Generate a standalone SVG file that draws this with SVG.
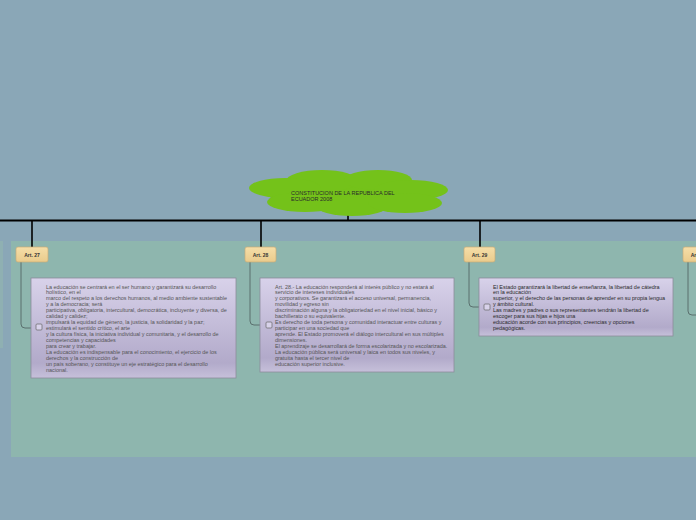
<svg xmlns="http://www.w3.org/2000/svg" width="696" height="520" viewBox="0 0 696 520">
<defs>
<linearGradient id="boxg" x1="0" y1="0" x2="0" y2="1">
<stop offset="0" stop-color="#D8D2EA"/>
<stop offset="0.85" stop-color="#B2AACA"/>
<stop offset="1" stop-color="#C6C0DA"/>
</linearGradient>
<linearGradient id="tagg" x1="0" y1="0" x2="0" y2="1">
<stop offset="0" stop-color="#F5DEA8"/>
<stop offset="1" stop-color="#EACB8C"/>
</linearGradient>
</defs>
<style>
.tag{fill:url(#tagg);stroke:#C9AE78;stroke-width:0.7}
.tagt{font-family:"Liberation Sans",Arial,sans-serif;font-size:5px;font-weight:bold;fill:#333;text-anchor:middle}
.box{fill:url(#boxg);stroke:#8C8C9C;stroke-width:0.8}
.bt{font-family:"Liberation Sans",Arial,sans-serif;font-size:5.45px;fill:#555}
.bt3{font-family:"Liberation Sans",Arial,sans-serif;font-size:5.45px;fill:#2a2a2a}
.ct{font-family:"Liberation Sans",Arial,sans-serif;font-size:5.5px;fill:#2a2a2a}
.chk{fill:#D8D2EA;stroke:#666;stroke-width:0.7}
.blk{stroke:#000;stroke-width:1.6;fill:none}
.gc{stroke:#4E5E5E;stroke-width:0.8;fill:none}
.cloud{fill:#74C21A}
</style>
<rect width="696" height="520" fill="#8AA7B7"/>
<rect x="11" y="241" width="685" height="216" fill="#8EB6AE"/>
<rect x="0" y="241" width="3" height="107" fill="#8FB0B2"/>

<g id="connectors">
<line x1="0" y1="220.5" x2="696" y2="220.5" stroke="#000" stroke-width="2"/>
<line class="blk" x1="348" y1="212" x2="348" y2="220"/>
<line class="blk" x1="32" y1="221" x2="32" y2="247"/>
<line class="blk" x1="261" y1="221" x2="261" y2="247"/>
<line class="blk" x1="480" y1="221" x2="480" y2="247"/>
<path class="gc" d="M21 262 V324 Q21 328 25 328 H31"/>
<path class="gc" d="M250 262 V321 Q250 325 254 325 H260"/>
<path class="gc" d="M469 262 V303 Q469 307 473 307 H479"/>
<path class="gc" d="M688 262 V311 Q688 315 692 315 H700"/>
</g>

<g id="root">
<g class="cloud">
<ellipse cx="348" cy="192" rx="82" ry="17"/>
<ellipse cx="322" cy="181" rx="36" ry="11"/>
<ellipse cx="378" cy="180" rx="34" ry="10"/>
<ellipse cx="285" cy="188" rx="36" ry="10"/>
<ellipse cx="411" cy="190" rx="37" ry="10"/>
<ellipse cx="305" cy="202" rx="38" ry="10"/>
<ellipse cx="352" cy="206" rx="36" ry="10"/>
<ellipse cx="405" cy="203" rx="37" ry="10"/>
</g>
<text class="ct" x="291" y="194.5">CONSTITUCION DE LA REPUBLICA DEL</text>
<text class="ct" x="291" y="200.5">ECUADOR 2008</text>
</g>

<g id="art27">
<rect class="tag" x="16" y="247" width="32" height="15" rx="2"/>
<text class="tagt" x="32" y="256.5">Art. 27</text>
</g>
<g id="art28">
<rect class="tag" x="245" y="247" width="31" height="15" rx="2"/>
<text class="tagt" x="260.5" y="256.5" font-weight="normal">Art. 28</text>
</g>
<g id="art29">
<rect class="tag" x="464" y="247" width="31" height="15" rx="2"/>
<text class="tagt" x="479.5" y="256.5" font-weight="normal">Art. 29</text>
</g>
<g id="art30">
<rect class="tag" x="683" y="247" width="31" height="15" rx="2"/>
<text class="tagt" x="698.5" y="256.5" font-weight="normal">Art. 30</text>
</g>

<g id="text27">
<rect class="box" x="31" y="278" width="205" height="100"/>
<rect class="chk" x="36" y="324" width="6" height="6" rx="1"/>
<text class="bt" x="46" y="288.5">
<tspan x="46">La educación se centrará en el ser humano y garantizará su desarrollo</tspan>
<tspan x="46" dy="5.95">holístico, en el</tspan>
<tspan x="46" dy="5.95">marco del respeto a los derechos humanos, al medio ambiente sustentable</tspan>
<tspan x="46" dy="5.95">y a la democracia; será</tspan>
<tspan x="46" dy="5.95">participativa, obligatoria, intercultural, democrática, incluyente y diversa, de</tspan>
<tspan x="46" dy="5.95">calidad y calidez;</tspan>
<tspan x="46" dy="5.95">impulsará la equidad de género, la justicia, la solidaridad y la paz;</tspan>
<tspan x="46" dy="5.95">estimulará el sentido crítico, el arte</tspan>
<tspan x="46" dy="5.95">y la cultura física, la iniciativa individual y comunitaria, y el desarrollo de</tspan>
<tspan x="46" dy="5.95">competencias y capacidades</tspan>
<tspan x="46" dy="5.95">para crear y trabajar.</tspan>
<tspan x="46" dy="5.95">La educación es indispensable para el conocimiento, el ejercicio de los</tspan>
<tspan x="46" dy="5.95">derechos y la construcción de</tspan>
<tspan x="46" dy="5.95">un país soberano, y constituye un eje estratégico para el desarrollo</tspan>
<tspan x="46" dy="5.95">nacional.</tspan>
</text>
</g>

<g id="text28">
<rect class="box" x="260" y="278" width="194" height="94"/>
<rect class="chk" x="266" y="322" width="6" height="6" rx="1"/>
<text class="bt" x="275" y="288.5">
<tspan x="275">Art. 28.- La educación responderá al interés público y no estará al</tspan>
<tspan x="275" dy="5.95">servicio de intereses individuales</tspan>
<tspan x="275" dy="5.95">y corporativos. Se garantizará el acceso universal, permanencia,</tspan>
<tspan x="275" dy="5.95">movilidad y egreso sin</tspan>
<tspan x="275" dy="5.95">discriminación alguna y la obligatoriedad en el nivel inicial, básico y</tspan>
<tspan x="275" dy="5.95">bachillerato o su equivalente.</tspan>
<tspan x="275" dy="5.95">Es derecho de toda persona y comunidad interactuar entre culturas y</tspan>
<tspan x="275" dy="5.95">participar en una sociedad que</tspan>
<tspan x="275" dy="5.95">aprende. El Estado promoverá el diálogo intercultural en sus múltiples</tspan>
<tspan x="275" dy="5.95">dimensiones.</tspan>
<tspan x="275" dy="5.95">El aprendizaje se desarrollará de forma escolarizada y no escolarizada.</tspan>
<tspan x="275" dy="5.95">La educación pública será universal y laica en todos sus niveles, y</tspan>
<tspan x="275" dy="5.95">gratuita hasta el tercer nivel de</tspan>
<tspan x="275" dy="5.95">educación superior inclusive.</tspan>
</text>
</g>

<g id="text29">
<rect class="box" x="479" y="278" width="194" height="58"/>
<rect class="chk" x="484" y="304" width="6" height="6" rx="1"/>
<text class="bt3" x="493" y="288.5">
<tspan x="493"> El Estado garantizará la libertad de enseñanza, la libertad de cátedra</tspan>
<tspan x="493" dy="5.95">en la educación</tspan>
<tspan x="493" dy="5.95">superior, y el derecho de las personas de aprender en su propia lengua</tspan>
<tspan x="493" dy="5.95">y ámbito cultural.</tspan>
<tspan x="493" dy="5.95">Las madres y padres o sus representantes tendrán la libertad de</tspan>
<tspan x="493" dy="5.95">escoger para sus hijas e hijos una</tspan>
<tspan x="493" dy="5.95">educación acorde con sus principios, creencias y opciones</tspan>
<tspan x="493" dy="5.95">pedagógicas.</tspan>
</text>
</g>
</svg>
